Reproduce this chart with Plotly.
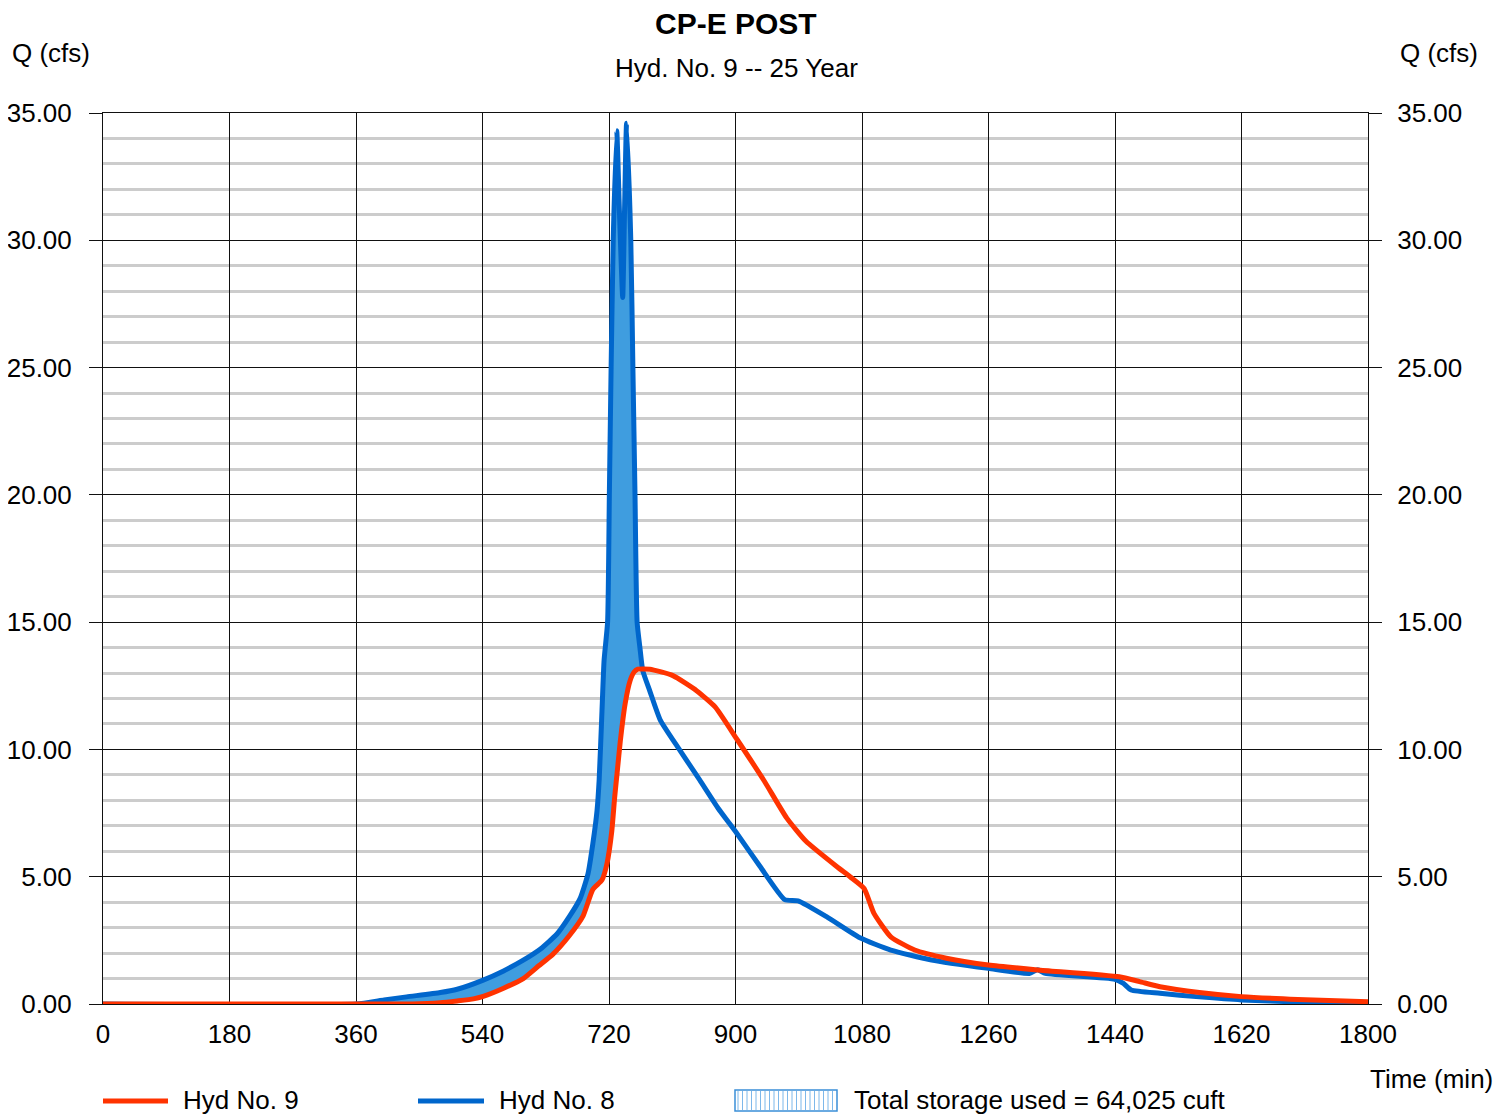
import plotly.graph_objects as go

# Hyd No. 8 (inflow) - time (min) / flow (cfs)
hyd8_t = [0, 360, 400, 432, 480, 504, 541, 570, 598, 622, 646, 664, 679, 690, 697, 703,
          706, 710, 713, 718, 720.5, 723, 726, 731, 735, 739.5, 742, 745, 751, 754, 757, 760,
          764, 768, 778, 793, 820, 849, 875, 902, 935, 970, 989, 1030, 1077, 1121, 1179,
          1260, 1318, 1330, 1341, 1440, 1452, 1463, 1504, 1560, 1620, 1700, 1800]
hyd8_q = [0, 0, 0.16, 0.28, 0.45, 0.58, 0.94, 1.3, 1.72, 2.15, 2.75, 3.45, 4.15, 5.1, 6.3, 7.6,
          8.8, 11.5, 13.5, 15.0, 20.0, 25.0, 30.0, 34.3, 31.0, 27.75, 31.0, 34.6, 30.0, 25.0, 20.0, 15.0,
          14.0, 13.1, 12.3, 11.15, 10.0, 8.8, 7.7, 6.7, 5.4, 4.1, 4.05, 3.42, 2.6, 2.12, 1.73,
          1.4, 1.2, 1.35, 1.2, 0.97, 0.81, 0.55, 0.42, 0.28, 0.16, 0.08, 0.03]

# Hyd No. 9 (outflow)
hyd9_t = [0, 440, 480, 504, 527, 541, 570, 598, 620, 640, 664, 683, 697, 710, 717, 724,
          728, 732, 736, 743, 750, 756, 761, 778, 811, 845, 871, 902, 940, 973, 1000, 1044,
          1063, 1083, 1097, 1121, 1155, 1200, 1260, 1330, 1446, 1475, 1504, 1560, 1620, 1700, 1800]
hyd9_q = [0, 0, 0.05, 0.12, 0.2, 0.3, 0.62, 1.0, 1.5, 1.95, 2.7, 3.45, 4.5, 4.87, 5.5, 6.8,
          8.1, 9.2, 10.3, 11.8, 12.7, 13.05, 13.15, 13.15, 12.9, 12.3, 11.67, 10.4, 8.8, 7.3, 6.4, 5.4,
          5.0, 4.54, 3.56, 2.64, 2.12, 1.8, 1.53, 1.34, 1.07, 0.88, 0.68, 0.45, 0.29, 0.18, 0.09]

x_ticks = list(range(0, 1801, 180))
storage_label = "Total storage used = 64,025 cuft"

RED = "#ff3300"
BLUE = "#0066cc"
FILL = "#3f9ddf"
FONT = "Liberation Sans, Arial, sans-serif"
SMOOTH = 0.5

# storage polygon: inflow rising limb forward, outflow back down
t0, t1 = 360, 768
fx = [t for t in hyd8_t if t0 <= t <= t1]
fy = [q for t, q in zip(hyd8_t, hyd8_q) if t0 <= t <= t1]
rx = [t for t in hyd9_t if t0 <= t <= t1]
ry = [q for t, q in zip(hyd9_t, hyd9_q) if t0 <= t <= t1]
poly_x = fx + rx[::-1]
poly_y = fy + ry[::-1]

fig = go.Figure()
fig.add_trace(go.Scatter(x=poly_x, y=poly_y, fill="toself", fillcolor=FILL, mode="lines",
                         line=dict(width=0, shape="spline", smoothing=SMOOTH),
                         name=storage_label, hoverinfo="skip"))
fig.add_trace(go.Scatter(x=hyd8_t, y=hyd8_q, mode="lines", name="Hyd No. 8",
                         line=dict(color=BLUE, width=5, shape="spline", smoothing=SMOOTH)))
fig.add_trace(go.Scatter(x=hyd9_t, y=hyd9_q, mode="lines", name="Hyd No. 9",
                         line=dict(color=RED, width=5, shape="spline", smoothing=SMOOTH),
                         yaxis="y2"))

# page body has an 8px margin, so the figure is laid out 8px smaller/shifted
fig.update_layout(
    width=1504, height=1108,
    margin=dict(l=95, r=144, t=105, b=112),
    paper_bgcolor="white", plot_bgcolor="white",
    font=dict(family=FONT, size=26, color="black"),
    showlegend=False,
    xaxis=dict(range=[0, 1800], tickvals=x_ticks, showgrid=True, gridcolor="#111",
               gridwidth=1, zeroline=False, showline=True, linecolor="#111", mirror=True,
               ticks="", ticklabelstandoff=7, tickfont=dict(size=26), automargin=False),
    yaxis=dict(range=[0, 35], dtick=5, tickformat=".2f", showgrid=True, gridcolor="#111",
               gridwidth=1, zeroline=False, showline=True, linecolor="#111",
               ticks="outside", ticklen=13, tickcolor="#111", ticklabelstandoff=12,
               minor=dict(dtick=1, showgrid=True, gridcolor="#cccccc", gridwidth=2.5, ticks=""),
               tickfont=dict(size=26), automargin=False),
    yaxis2=dict(range=[0, 35], dtick=5, tickformat=".2f", overlaying="y", side="right",
                showgrid=False, zeroline=False, showline=True, linecolor="#111",
                ticks="outside", ticklen=13, tickcolor="#111", ticklabelstandoff=10,
                tickfont=dict(size=26), automargin=False),
)

# screen pixel -> paper helpers (plot area 103..1368 x, 113..1004 y on screen)
def px(x):
    return (x - 103) / 1265

def py(y):
    return (1004 - y) / 891

ann = [
    dict(text="<b>CP-E POST</b>", x=px(736), y=py(23), font=dict(size=30)),
    dict(text="Hyd. No. 9 -- 25 Year", x=px(736), y=py(68)),
    dict(text="Q (cfs)", x=px(10), y=py(53), xanchor="left"),
    dict(text="Q (cfs)", x=px(1398), y=py(53), xanchor="left"),
    dict(text="Time (min)", x=px(1368), y=py(1079), xanchor="left"),
    dict(text="Hyd No. 9", x=px(181), y=py(1100), xanchor="left"),
    dict(text="Hyd No. 8", x=px(497), y=py(1100), xanchor="left"),
    dict(text=storage_label, x=px(852), y=py(1100), xanchor="left"),
]
for a in ann:
    a.setdefault("xanchor", "center")
    fig.add_annotation(xref="paper", yref="paper", showarrow=False, yanchor="middle", **a)

shapes = [
    dict(type="line", x0=px(103), x1=px(168), y0=py(1101), y1=py(1101),
         line=dict(color=RED, width=5)),
    dict(type="line", x0=px(418), x1=px(484), y0=py(1101), y1=py(1101),
         line=dict(color=BLUE, width=5)),
]
hx = 738
while hx < 836:
    shapes.append(dict(type="line", x0=px(hx), x1=px(hx), y0=py(1110), y1=py(1091),
                       line=dict(color="#7db8ea", width=1)))
    hx += 4.5
shapes.append(dict(type="rect", x0=px(735), x1=px(837), y0=py(1111), y1=py(1090),
                   line=dict(color="#3a8fd8", width=1.5)))
for s in shapes:
    fig.add_shape(xref="paper", yref="paper", **s)

fig.write_html("out.html")
